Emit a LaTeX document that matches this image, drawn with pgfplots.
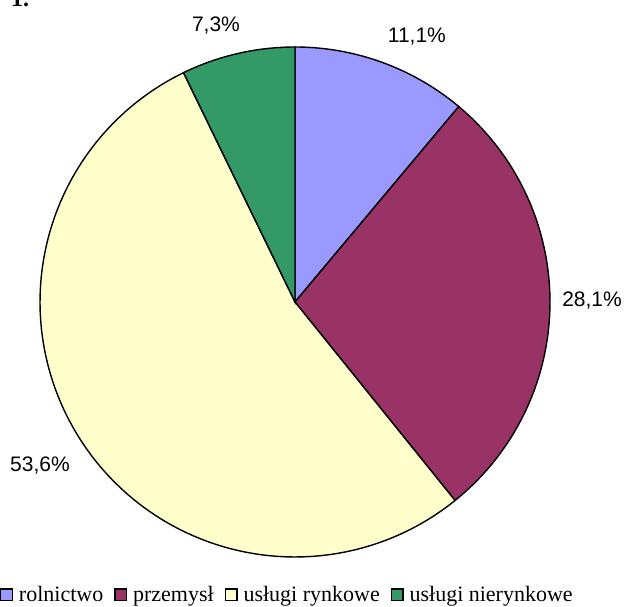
\documentclass[border=0pt]{standalone}
\usepackage{pgfplots}
\pgfplotsset{compat=1.18}
\usepackage{fontspec}
\setmainfont{Liberation Serif}
\newfontfamily\arial{Liberation Sans}
\definecolor{c1}{HTML}{9999FF}
\definecolor{c2}{HTML}{993366}
\definecolor{c3}{HTML}{FFFFCC}
\definecolor{c4}{HTML}{339966}
\begin{document}
\begin{tikzpicture}
\useasboundingbox (0pt,0pt) rectangle (624pt,607pt);
\node[anchor=base west, font=\bfseries\fontsize{24}{26}\selectfont, inner sep=0pt] at (11pt,600pt) {1.};
\begin{axis}[at={(295pt,305pt)}, anchor=origin,
  x=255pt, y=255pt, xmin=-1.2, xmax=1.2, ymin=-1.2, ymax=1.2,
  hide axis, clip=false,
  legend columns=4,
  legend style={draw=none, fill=none, at={(axis cs:-1.157,-1.149)}, anchor=west,
    font=\fontsize{22}{24}\selectfont, inner sep=0pt, nodes={inner sep=0pt},
    /tikz/every odd column/.append style={column sep=6pt},
    /tikz/every even column/.append style={column sep=11pt}},
  legend image code/.code={\draw[#1, draw=black, line width=1.3pt] (0.5pt,-5.5pt) rectangle (12pt,6pt);},
]
% values (percent): 11.1, 28.1, 53.6, 7.3 ; angles clockwise from top
\addplot[fill=c1, draw=black, line width=1.4pt, domain=0:39.96, samples=40, variable=\t] ({sin(\t)},{cos(\t)}) -- (axis cs:0,0) -- cycle;
\addlegendentry{rolnictwo}
\addplot[fill=c2, draw=black, line width=1.4pt, domain=39.96:141.12, samples=60, variable=\t] ({sin(\t)},{cos(\t)}) -- (axis cs:0,0) -- cycle;
\addlegendentry{przemysł}
\addplot[fill=c3, draw=black, line width=1.4pt, domain=141.12:334.08, samples=100, variable=\t] ({sin(\t)},{cos(\t)}) -- (axis cs:0,0) -- cycle;
\addlegendentry{usługi rynkowe}
\addplot[fill=c4, draw=black, line width=1.4pt, domain=334.08:360, samples=30, variable=\t] ({sin(\t)},{cos(\t)}) -- (axis cs:0,0) -- cycle;
\addlegendentry{usługi nierynkowe}
\node[font=\arial\fontsize{21}{23}\selectfont] at (axis cs:0.478,1.04) {11,1\%};
\node[font=\arial\fontsize{21}{23}\selectfont] at (axis cs:1.165,0.004) {28,1\%};
\node[font=\arial\fontsize{21}{23}\selectfont] at (axis cs:-1.0,-0.64) {53,6\%};
\node[font=\arial\fontsize{21}{23}\selectfont] at (axis cs:-0.31,1.083) {7,3\%};
\end{axis}
\end{tikzpicture}
\end{document}
